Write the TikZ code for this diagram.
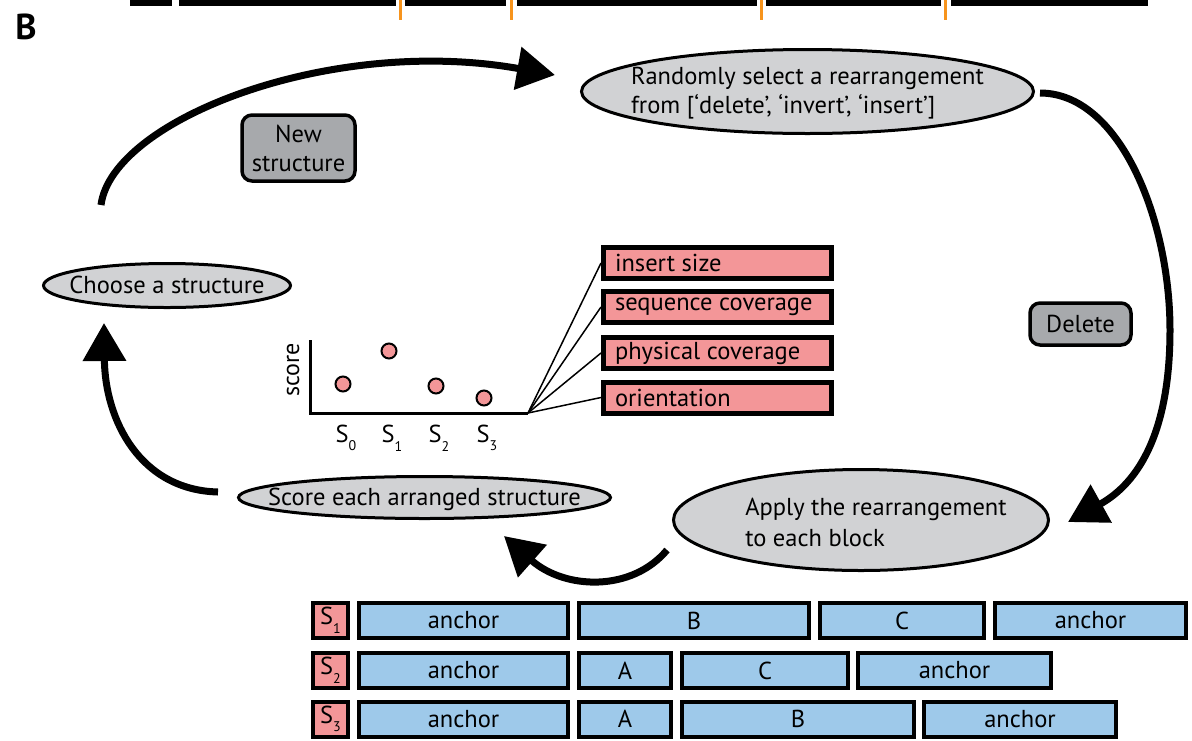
\documentclass[tikz,border=0pt]{standalone}
\usepackage{fontspec}
\setmainfont{PT Sans}
\usetikzlibrary{shapes.geometric,arrows.meta}
\definecolor{ellfill}{RGB}{209,210,212}
\definecolor{boxgray}{RGB}{167,169,172}
\definecolor{pinkc}{RGB}{243,150,152}
\definecolor{bluec}{RGB}{158,201,234}
\definecolor{orangec}{RGB}{247,148,29}
\newcommand\Ssub[1]{S\raisebox{-0.35em}{\fontsize{14}{14}\selectfont #1}}
\newcommand\ftext[1]{\makebox[205pt][l]{#1}}
\newcommand\zbox[3][0pt]{\makebox[0pt]{\hspace*{#1}\smash{\raisebox{-#2}{\begin{tabular}{@{}l@{}}#3\end{tabular}}}}}
\begin{document}
\begin{tikzpicture}[x=1pt,y=-1pt,
  every node/.style={font=\fontsize{24.5}{29}\selectfont},
  ell/.style={ellipse, draw, line width=3pt, fill=ellfill, inner sep=0pt},
  graybox/.style={draw, line width=3.5pt, fill=boxgray, rounded corners=10pt, inner sep=0pt, align=center},
  factor/.style={draw, line width=5pt, fill=pinkc, minimum height=31pt, inner xsep=11.5pt, inner ysep=0pt},
  blk/.style={draw, line width=4pt, fill=bluec, minimum height=35pt, inner sep=0pt},
  sbox/.style={draw, line width=4pt, fill=pinkc, minimum height=35pt, minimum width=35pt, inner sep=0pt},
  flow/.style={line width=7pt, -{Triangle[length=38pt,width=42pt]}},
  dot/.style={circle, draw, line width=2pt, fill=pinkc, minimum size=15pt, inner sep=0pt},
  axis/.style={line width=3pt},
  fan/.style={line width=1.5pt},
  tick/.style={orangec, line width=3pt}
]
\useasboundingbox (0,0) rectangle (1192,740);

% top strip
\fill (130,0) rectangle (172,6);
\fill (179,0) rectangle (396,6);
\fill (405,0) rectangle (506,6);
\fill (517,0) rectangle (757,6);
\fill (766,0) rectangle (941,6);
\fill (951,0) rectangle (1148,6);
\draw[tick] (400,0) -- (400,20);
\draw[tick] (511,0) -- (511,20);
\draw[tick] (761,0) -- (761,20);
\draw[tick] (945,0) -- (945,20);

\node[font=\fontsize{36}{36}\selectfont\bfseries] (lblB) at (26,27) {B};

% ellipses
\node[ell, minimum width=452pt, minimum height=84pt] (sel) at (807.5,91.5)
  {\zbox{8pt}{Randomly select a rearrangement\\from [‘delete’, ‘invert’, ‘insert’]}};
\node[ell, minimum width=375pt, minimum height=101pt, font=\fontsize{24.5}{31}\selectfont] (apply) at (861,520)
  {\zbox[30pt]{11pt}{Apply the rearrangement\\to each block}};
\node[ell, minimum width=372pt, minimum height=42pt] (score) at (424.5,497.5)
  {\zbox{8pt}{Score each arranged structure}};
\node[ell, minimum width=247pt, minimum height=44pt] (choose) at (167,285.5)
  {\zbox{8.5pt}{Choose a structure}};

% gray boxes
\node[graybox, minimum width=113pt, minimum height=66pt] (new) at (298.5,148) {New\\structure};
\node[graybox, minimum width=101pt, minimum height=42pt] (del) at (1080.5,324) {Delete};

% arrows
\coordinate (a1s) at (101,205);
\coordinate (a1e) at (555,75);
\coordinate (a2s) at (1040,93);
\coordinate (a2m) at (1170,330);
\coordinate (a2e) at (1068,522);
\coordinate (a3s) at (667,550);
\coordinate (a3e) at (504,536);
\coordinate (a4s) at (218,492);
\coordinate (a4e) at (104,323);
\draw[flow] (a1s) .. controls (112,120) and (330,35) .. (a1e);
\draw[flow] (a2s) .. controls (1120,93) and (1170,220) .. (a2m) .. controls (1170,430) and (1140,482) .. (a2e);
\draw[flow] (a3s) .. controls (632,592) and (565,590) .. (a3e);
\draw[flow] (a4s) .. controls (140,490) and (105,420) .. (a4e);

% chart
\coordinate (ytop) at (310,340);
\coordinate (origin) at (310,413);
\coordinate (xend) at (528,413);
\draw[axis] (ytop) -- (origin) -- (xend);
\node[rotate=90, font=\fontsize{24}{24}\selectfont] (scl) at (293,370) {score};
\node[dot] (d0) at (343,384) {};
\node[dot] (d1) at (389,351) {};
\node[dot] (d2) at (436,386) {};
\node[dot] (d3) at (484,398) {};
\node (s0) at (346,438) {\Ssub{0}};
\node (s1) at (392,438) {\Ssub{1}};
\node (s2) at (439,438) {\Ssub{2}};
\node (s3) at (487,438) {\Ssub{3}};

% factors
\node[factor] (f1) at (717.5,263) {\ftext{insert size}};
\node[factor] (f2) at (717.5,307) {\ftext{sequence coverage}};
\node[factor] (f3) at (717.5,353) {\ftext{physical coverage}};
\node[factor] (f4) at (717.5,397.5) {\ftext{orientation}};
\draw[fan] (xend) -- (f1.west);
\draw[fan] (xend) -- (f2.west);
\draw[fan] (xend) -- (f3.west);
\draw[fan] (xend) -- (f4.west);

% blocks row 1
\node[sbox] (r1s) at (330.5,620.5) {\Ssub{1}};
\node[blk, minimum width=209pt] (r1a) at (463.5,620.5) {anchor};
\node[blk, minimum width=230pt] (r1b) at (694,620.5) {B};
\node[blk, minimum width=164pt] (r1c) at (902,620.5) {C};
\node[blk, minimum width=191pt] (r1d) at (1090.5,620.5) {anchor};
% row 2
\node[sbox] (r2s) at (330.5,670.5) {\Ssub{2}};
\node[blk, minimum width=209pt] (r2a) at (463.5,670.5) {anchor};
\node[blk, minimum width=92pt] (r2b) at (625,670.5) {A};
\node[blk, minimum width=166pt] (r2c) at (765,670.5) {C};
\node[blk, minimum width=193pt] (r2d) at (954.5,670.5) {anchor};
% row 3
\node[sbox] (r3s) at (330.5,719) {\Ssub{3}};
\node[blk, minimum width=209pt] (r3a) at (463.5,719) {anchor};
\node[blk, minimum width=92pt] (r3b) at (625,719) {A};
\node[blk, minimum width=232pt] (r3c) at (798,719) {B};
\node[blk, minimum width=192pt] (r3d) at (1020,719) {anchor};
\end{tikzpicture}
\end{document}
